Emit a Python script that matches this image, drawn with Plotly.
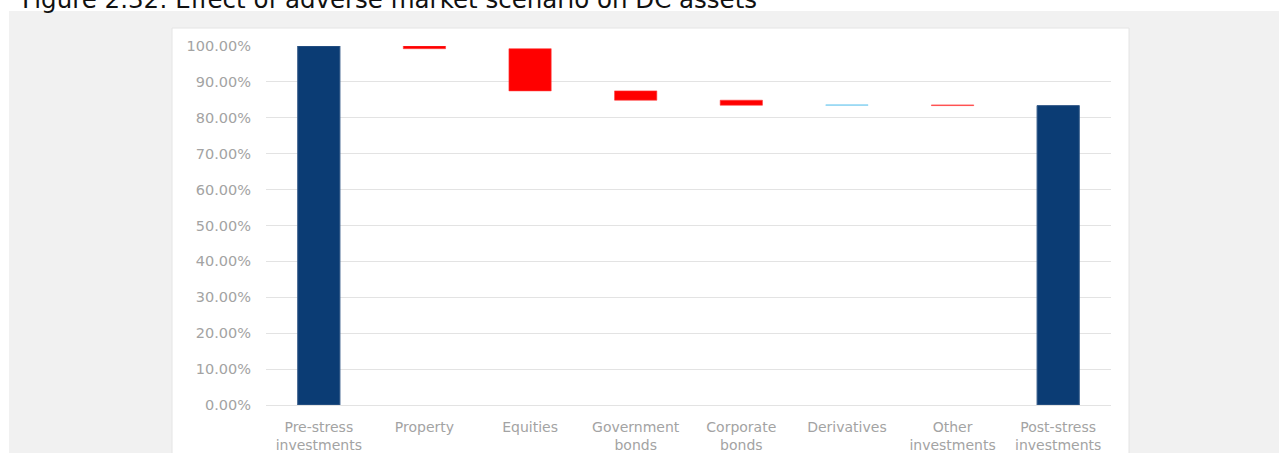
import plotly.graph_objects as go

# Waterfall of DC assets under the adverse market scenario (% of pre-stress value)
categories = [
    "Pre-stress<br>investments", "Property", "Equities", "Government<br>bonds",
    "Corporate<br>bonds", "Derivatives", "Other<br>investments", "Post-stress<br>investments",
]
measures = ["absolute", "relative", "relative", "relative", "relative", "relative", "relative", "total"]
values = [100.0, -0.75, -11.75, -2.6, -1.4, 0.1, -0.2, None]
y_ticks = [0, 10, 20, 30, 40, 50, 60, 70, 80, 90, 100]
tick_text = [f"{t:.2f}%" for t in y_ticks]

NAVY = "#0B3C74"
RED = "#FF0000"
LIGHT_BLUE = "#8DD4F2"
LABEL_GREY = "#A3A3A3"
GRID = "#E3E3E3"

W, H = 1279, 453
# plot area in pixels
PL, PR, PT, PB = 266, 1111, 46, 405


def px_x(p):
    return (p - PL) / (PR - PL)


def px_y(p):
    return (PB - p) / (PB - PT)


fig = go.Figure(
    go.Waterfall(
        x=categories,
        y=values,
        measure=measures,
        width=0.4,
        connector=dict(visible=False),
        decreasing=dict(marker=dict(color=RED, line=dict(color="rgba(255,60,60,0.6)", width=1))),
        increasing=dict(marker=dict(color=LIGHT_BLUE, line=dict(color=LIGHT_BLUE, width=1))),
        totals=dict(marker=dict(color=NAVY, line=dict(color="#3A5F8C", width=1))),
        hoverinfo="x+y",
    )
)

shapes = [
    # grey backdrop
    dict(type="rect", xref="paper", yref="paper", layer="below",
         x0=px_x(9), x1=px_x(1290), y0=px_y(470), y1=px_y(11),
         fillcolor="#F1F1F1", line=dict(width=0)),
    # white chart panel
    dict(type="rect", xref="paper", yref="paper", layer="below",
         x0=px_x(172), x1=px_x(1129), y0=px_y(470), y1=px_y(28),
         fillcolor="#FFFFFF", line=dict(color="#E4E4E4", width=1)),
]

fig.update_layout(
    width=W, height=H,
    margin=dict(l=PL, r=W - PR, t=PT, b=H - PB, pad=0),
    paper_bgcolor="#FFFFFF",
    plot_bgcolor="rgba(0,0,0,0)",
    showlegend=False,
    shapes=shapes,
    font=dict(family="DejaVu Sans, Verdana, sans-serif", color=LABEL_GREY, size=14),
    annotations=[
        dict(text="Figure 2.32: Effect of adverse market scenario on DC assets",
             xref="paper", yref="paper", x=px_x(20), y=px_y(16),
             xanchor="left", yanchor="bottom", showarrow=False,
             font=dict(family="DejaVu Sans, Verdana, sans-serif", size=24.5, color="#111111")),
    ],
    xaxis=dict(
        showgrid=False, showline=False, zeroline=False,
        tickfont=dict(size=14, color=LABEL_GREY),
        ticklabelstandoff=12,
        automargin=False,
    ),
    yaxis=dict(
        range=[0, 100],
        tickvals=y_ticks, ticktext=tick_text,
        showgrid=True, gridcolor=GRID, gridwidth=1,
        zeroline=True, zerolinecolor=GRID, zerolinewidth=1,
        showline=False,
        tickfont=dict(size=14.5, color=LABEL_GREY),
        ticklabelstandoff=14,
        automargin=False,
    ),
)

fig.write_html("out.html")
